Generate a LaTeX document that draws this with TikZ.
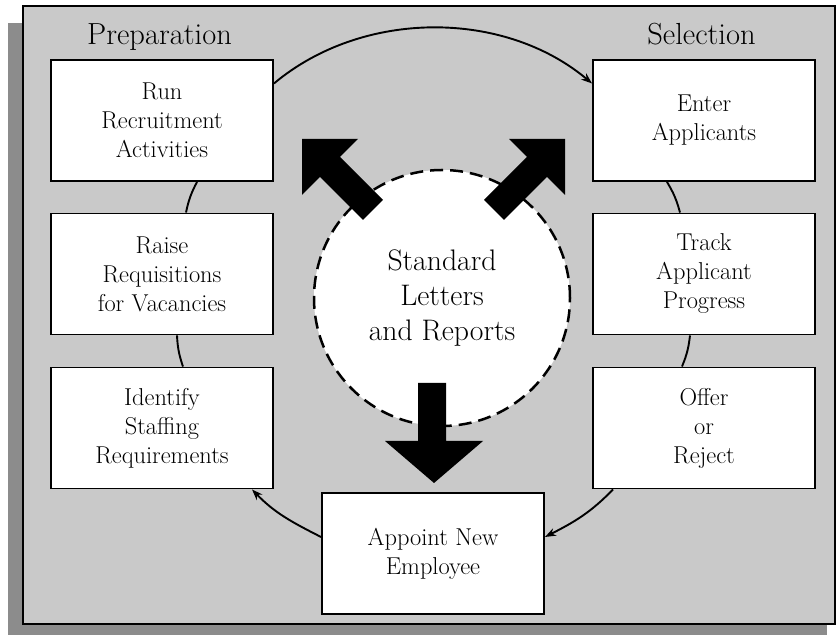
\documentclass[tikz,border=0pt]{standalone}
\usetikzlibrary{arrows.meta}
\definecolor{panelgray}{gray}{0.79}
\definecolor{shadowgray}{gray}{0.55}
\begin{document}
\begin{tikzpicture}[x=1pt,y=1pt,
  box/.style={draw=black, line width=1.9pt, fill=white, minimum width=222pt,
    minimum height=121pt, inner sep=0pt, align=center,
    font=\fontsize{24.4}{29}\selectfont},
  head/.style={font=\fontsize{30.5}{36}\selectfont, anchor=base, inner sep=0pt},
  hubstyle/.style={circle, draw=black, fill=white, line width=2.5pt,
    dash pattern=on 13pt off 7pt, minimum size=256pt, inner sep=0pt,
    align=center, font=\fontsize{29.7}{35}\selectfont},
  link/.style={line width=1.9pt},
  flow/.style={link, -{Stealth[length=11pt,width=8pt]}},
  bigarrow/.style={fill=black, draw=none}]
\useasboundingbox (0,0) rectangle (839,635);
% shadow and panel
\fill[shadowgray] (8,0) rectangle (827,612);
\filldraw[fill=panelgray, draw=black, line width=1.8pt] (23,11) rectangle (835,629);
% centre circle
\node[hubstyle] (hub) at (442,337) {Standard\\Letters\\and Reports};
% big black arrows
\fill[bigarrow] (302,496) -- (358,496) -- (340,478) -- (383,435) -- (363,415) -- (320,458) -- (302,440) -- cycle;
\fill[bigarrow] (565,496) -- (509,496) -- (527,478) -- (484,435) -- (504,415) -- (547,458) -- (565,440) -- cycle;
\fill[bigarrow] (418,252) -- (446,252) -- (446,194) -- (483,194) -- (434,152) -- (385,194) -- (418,194) -- cycle;
% headers
\node[head] (prep) at (159.5,590) {Preparation};
\node[head] (sel) at (701.5,590) {Selection};
% boxes
\node[box] (run) at (162,514.5) {Run\\Recruitment\\Activities};
\node[box] (raise) at (162,361) {Raise\\Requisitions\\for Vacancies};
\node[box] (identify) at (162,207) {Identify\\Staffing\\Requirements};
\node[box] (enter) at (704,514.5) {Enter\\Applicants};
\node[box] (track) at (704,361) {Track\\Applicant\\Progress};
\node[box] (offer) at (704,207) {Offer\\or\\Reject};
\node[box] (appoint) at (433,81.5) {Appoint New\\Employee};
% cycle connectors
\draw[flow] ([yshift=37pt]run.east) to[out=40,in=140,looseness=0.93] ([yshift=37pt]enter.west);
\draw[link] ([xshift=35pt]run.south) to[bend right=8] ([xshift=24pt]raise.north);
\draw[link] ([xshift=15pt]raise.south) to[bend right=8] ([xshift=21pt]identify.north);
\draw[link] ([xshift=-37pt]enter.south) to[bend left=8] ([xshift=-24pt]track.north);
\draw[link] ([xshift=-14pt]track.south) to[bend left=8] ([xshift=-22pt]offer.north);
\draw[flow] ([xshift=-91pt]offer.south) to[out=226,in=27] ([yshift=16.5pt]appoint.east);
\draw[flow] ([yshift=16.5pt]appoint.west) to[out=153,in=-46] ([xshift=90pt]identify.south);
\end{tikzpicture}
\end{document}
